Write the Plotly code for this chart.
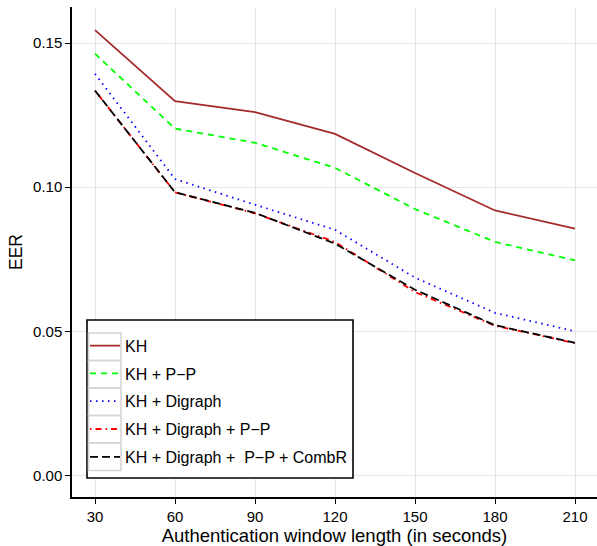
import plotly.graph_objects as go

windows = [30, 60, 90, 120, 150, 180, 210]
kh = [0.1545, 0.1298, 0.1260, 0.1185, 0.1049, 0.0919, 0.0856]
kh_pp = [0.1463, 0.1203, 0.1154, 0.1067, 0.0924, 0.0810, 0.0746]
kh_dig = [0.1393, 0.1028, 0.0939, 0.0852, 0.0686, 0.0564, 0.0500]
kh_dig_pp = [0.1335, 0.0982, 0.0909, 0.0810, 0.0636, 0.0519, 0.0459]
kh_dig_pp_comb = [0.1335, 0.0982, 0.0911, 0.0804, 0.0644, 0.0521, 0.0460]

series_names = ["KH", "KH + P\u2212P", "KH + Digraph", "KH + Digraph + P\u2212P",
                "KH + Digraph +  P\u2212P + CombR"]
series_vals = [kh, kh_pp, kh_dig, kh_dig_pp, kh_dig_pp_comb]
colors = ["#a52a2a", "#00ff00", "#0000ff", "#ff0000", "#000000"]
dashes = ["solid", "6px,5px", "1.5px,4.5px", "1.5px,4px,6px,4px", "8px,4px"]

x_tick_vals = [30, 60, 90, 120, 150, 180, 210]
y_tick_vals = [0.00, 0.05, 0.10, 0.15]
y_tick_text = ["0.00", "0.05", "0.10", "0.15"]

FONT = "Liberation Sans, Arial, sans-serif"

fig = go.Figure()
for i, (name, vals, c, d) in enumerate(zip(series_names, series_vals, colors, dashes)):
    fig.add_trace(go.Scatter(x=windows, y=vals, mode="lines", name=name,
                             legendgroup=f"g{i}",
                             line=dict(color=c, width=1.8, dash=d)))

# legend frame and key boxes (paper coordinates)
def px_x(p):
    return (p - 72) / 525.0

def px_y(p):
    return (497 - p) / 490.0

shapes = [dict(type="rect", xref="paper", yref="paper", layer="above",
               x0=px_x(87), x1=px_x(353), y0=px_y(478), y1=px_y(320),
               fillcolor="white", line=dict(color="black", width=1.6))]
for k in range(len(series_names)):
    top = 333 + 27.5 * k
    shapes.append(dict(type="rect", xref="paper", yref="paper", layer="above",
                       x0=px_x(88.5), x1=px_x(121), y0=px_y(top + 27.5), y1=px_y(top),
                       fillcolor="rgba(0,0,0,0)", line=dict(color="#d4d4d4", width=1.5)))

fig.update_layout(
    width=597, height=546,
    margin=dict(l=72, r=0, t=7, b=49),
    paper_bgcolor="white", plot_bgcolor="white",
    font=dict(family=FONT, size=15, color="black"),
    showlegend=True,
    shapes=shapes,
    legend=dict(x=px_x(85), y=px_y(328.7), xanchor="left", yanchor="top",
                bgcolor="rgba(0,0,0,0)", borderwidth=0,
                font=dict(family=FONT, size=16, color="black"),
                tracegroupgap=4, itemwidth=30),
    xaxis=dict(range=[21.37, 218.25], tickvals=x_tick_vals,
               ticks="outside", ticklen=5, tickwidth=1.2, tickcolor="black",
               showline=True, linecolor="black", linewidth=1.5,
               showgrid=True, gridcolor="#e6e6e6", gridwidth=1, zeroline=False,
               tickfont=dict(size=15, color="black"),
               title=dict(text="Authentication window length (in seconds)",
                          font=dict(size=18.5), standoff=0)),
    yaxis=dict(range=[-0.0075, 0.1625], tickvals=y_tick_vals, ticktext=y_tick_text,
               ticks="outside", ticklen=5, tickwidth=1.2, tickcolor="black",
               showline=True, linecolor="black", linewidth=1.5,
               showgrid=True, gridcolor="#e6e6e6", gridwidth=1, zeroline=False,
               tickfont=dict(size=15, color="black"),
               title=dict(text="EER", font=dict(size=17.5), standoff=6)),
)

fig.write_html("out.html")
